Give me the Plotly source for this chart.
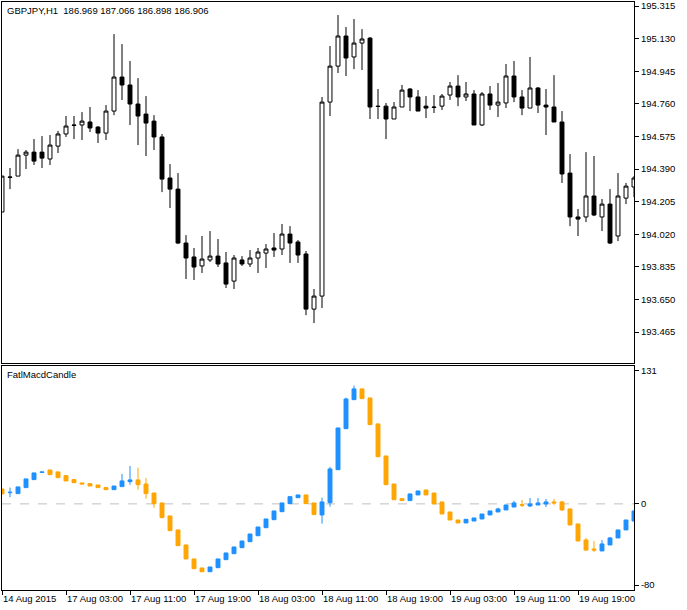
import plotly.graph_objects as go

# ---------------- data ----------------
bar_index = list(range(80))

tick_pos = [0, 8, 16, 24, 32, 40, 48, 56, 64, 72]
tick_labels = ["14 Aug 2015", "17 Aug 03:00", "17 Aug 11:00", "17 Aug 19:00",
               "18 Aug 03:00", "18 Aug 11:00", "18 Aug 19:00", "19 Aug 03:00",
               "19 Aug 11:00", "19 Aug 19:00"]

price_ticks = [195.315, 195.130, 194.945, 194.760, 194.575, 194.390,
               194.205, 194.020, 193.835, 193.650, 193.465]
ind_ticks = [131, 0, -80]

open_ = [194.146,194.345,194.350,194.469,194.486,194.486,194.447,194.520,194.589,194.640,
         194.640,194.657,194.628,194.594,194.719,194.912,194.867,194.759,194.702,194.662,
         194.572,194.339,194.276,193.970,193.891,193.840,193.874,193.896,193.857,193.754,
         193.874,193.851,193.885,193.913,193.942,193.936,194.021,193.976,193.908,193.595,
         193.669,194.770,194.974,195.145,195.026,195.105,195.133,194.747,194.747,194.674,
         194.742,194.844,194.799,194.747,194.742,194.747,194.810,194.861,194.799,194.816,
         194.640,194.816,194.753,194.765,194.918,194.799,194.736,194.850,194.753,194.742,
         194.657,194.367,194.118,194.118,194.237,194.118,194.191,194.010,194.225,194.288]
high_ = [194.350,194.396,194.503,194.498,194.560,194.577,194.583,194.606,194.691,194.691,
         194.713,194.742,194.634,194.753,195.156,195.099,195.003,194.906,194.804,194.696,
         194.589,194.418,194.367,194.015,193.942,194.010,194.038,193.993,193.919,193.902,
         193.896,193.930,193.942,193.964,194.027,194.078,194.066,193.987,193.925,193.709,
         194.799,195.088,195.264,195.196,195.241,195.184,195.139,194.844,194.765,194.770,
         194.867,194.850,194.838,194.804,194.810,194.816,194.884,194.923,194.884,194.838,
         194.827,194.861,194.878,194.986,195.003,194.838,195.026,194.855,194.844,194.923,
         194.719,194.475,194.163,194.486,194.464,194.220,194.276,194.367,194.311,194.350]
low_ = [194.146,194.276,194.350,194.390,194.413,194.396,194.413,194.481,194.572,194.560,
        194.555,194.600,194.538,194.555,194.696,194.782,194.640,194.526,194.464,194.498,
        194.259,194.169,193.964,193.766,193.760,193.800,193.862,193.834,193.715,193.709,
        193.840,193.834,193.800,193.828,193.891,193.902,193.857,193.857,193.561,193.516,
        193.601,194.691,194.935,194.918,194.957,194.952,194.674,194.674,194.560,194.674,
        194.742,194.719,194.719,194.679,194.708,194.725,194.782,194.747,194.776,194.640,
        194.634,194.725,194.685,194.736,194.770,194.696,194.736,194.708,194.583,194.657,
        194.311,194.066,194.010,194.089,194.123,194.038,193.964,193.981,194.191,194.231]
close_ = [194.350,194.343,194.469,194.486,194.435,194.452,194.526,194.589,194.634,194.638,
          194.662,194.623,194.594,194.719,194.912,194.867,194.759,194.691,194.651,194.572,
          194.333,194.276,193.970,193.885,193.834,193.879,193.896,193.851,193.737,193.885,
          193.851,193.885,193.919,193.936,193.930,194.021,193.970,193.902,193.595,193.669,
          194.770,194.974,195.145,195.020,195.105,195.128,194.742,194.745,194.674,194.742,
          194.838,194.799,194.719,194.736,194.740,194.804,194.861,194.799,194.816,194.640,
          194.816,194.753,194.770,194.918,194.799,194.736,194.850,194.753,194.742,194.657,
          194.362,194.118,194.106,194.237,194.129,194.191,193.970,194.237,194.293,194.339]

ind_open = [14.7,11.0,10.1,16.0,23.9,31.0,33.4,31.5,27.8,23.9,
            20.6,19.9,18.6,16.0,14.0,17.0,21.9,23.6,19.6,10.7,
            0.9,-11.9,-25.7,-40.5,-54.3,-63.2,-66.9,-62.9,-55.0,-49.1,
            -43.2,-37.3,-31.4,-23.5,-15.6,-7.7,0.2,6.1,8.8,0.9,
            -10.9,1.2,33.7,74.1,102.7,113.3,104.4,78.8,47.2,19.6,
            5.1,3.2,8.8,13.7,10.7,1.9,-8.0,-15.9,-18.8,-16.9,
            -14.9,-10.9,-8.0,-6.0,-3.1,-0.9,-2.1,-1.1,-0.1,1.9,
            1.9,-5.0,-19.8,-35.6,-44.5,-46.4,-40.5,-33.6,-25.7,-16.9]
ind_high = [14.7,16.0,16.7,24.6,30.5,31.4,33.4,31.5,27.8,23.9,
            20.6,19.9,18.6,16.0,17.6,29.5,37.4,35.7,25.5,10.7,
            0.9,-11.9,-25.7,-40.5,-54.3,-63.2,-62.2,-54.3,-48.4,-42.5,
            -36.6,-29.7,-22.8,-14.9,-7.0,0.9,7.1,8.8,8.8,0.9,
            6.1,36.4,74.8,104.7,116.5,113.3,104.4,78.8,47.2,19.6,
            5.1,9.8,12.7,13.7,10.7,1.9,-8.0,-15.9,-15.2,-13.9,
            -10.0,-7.0,-3.7,-1.1,2.9,3.8,5.8,5.8,4.8,4.8,
            2.9,-5.0,-19.8,-33.6,-36.6,-35.6,-32.6,-25.7,-15.9,-7.0]
ind_low = [9.8,6.5,10.1,16.0,23.9,31.0,28.8,25.8,22.6,20.9,
           19.6,17.6,16.0,14.0,14.0,17.0,18.9,14.0,5.1,-3.7,
           -13.6,-26.4,-41.2,-54.3,-63.9,-66.9,-66.9,-62.9,-55.0,-49.1,
           -43.2,-37.3,-31.4,-23.5,-15.6,-7.7,0.2,6.1,0.2,-10.6,
           -19.5,-2.8,33.7,74.1,102.7,103.7,78.1,46.5,18.9,4.1,
           3.2,3.2,8.8,8.8,-0.1,-10.0,-15.9,-18.8,-18.8,-16.9,
           -14.9,-10.9,-8.0,-6.0,-3.1,-3.1,-3.1,-1.1,-3.1,-1.1,
           -7.0,-20.8,-36.6,-46.4,-47.4,-46.4,-40.5,-33.6,-25.7,-16.9]
ind_close = [9.8,11.4,16.7,24.6,30.5,31.4,28.8,25.8,22.6,20.9,
             19.6,17.6,16.0,14.0,17.6,22.6,23.6,18.9,10.1,0.2,
             -13.6,-26.4,-41.2,-54.3,-63.9,-66.9,-62.2,-54.3,-48.4,-42.5,
             -36.6,-29.7,-22.8,-14.9,-7.0,0.9,7.1,8.8,0.2,-10.6,
             1.9,34.4,74.8,103.4,113.3,103.7,78.1,46.5,18.9,4.1,
             3.2,9.8,12.7,8.8,-0.1,-10.0,-15.9,-18.8,-15.2,-13.9,
             -10.0,-7.0,-5.0,-1.1,0.9,-1.3,-0.1,0.9,1.9,0.9,
             -6.0,-20.8,-36.6,-45.5,-45.5,-39.5,-33.6,-25.7,-15.9,-7.0]

symbol_title = "GBPJPY,H1  186.969 187.066 186.898 186.906"
ind_title = "FatlMacdCandle"

# ---------------- figure ----------------
FONT = "Liberation Sans, Arial, sans-serif"
BLUE = "#1E90FF"
ORANGE = "#FFA500"

fig = go.Figure()

fig.add_trace(go.Candlestick(
    x=bar_index, open=open_, high=high_, low=low_, close=close_,
    xaxis="x", yaxis="y",
    increasing=dict(line=dict(color="black", width=1), fillcolor="white"),
    decreasing=dict(line=dict(color="black", width=1), fillcolor="black"),
    whiskerwidth=0, showlegend=False, hoverinfo="skip",
))

fig.add_trace(go.Candlestick(
    x=bar_index, open=ind_open, high=ind_high, low=ind_low, close=ind_close,
    xaxis="x2", yaxis="y2",
    increasing=dict(line=dict(color=BLUE, width=1), fillcolor=BLUE),
    decreasing=dict(line=dict(color=ORANGE, width=1), fillcolor=ORANGE),
    whiskerwidth=0, showlegend=False, hoverinfo="skip",
))

fig.add_shape(type="line", xref="x2 domain", yref="y2", x0=0, x1=1, y0=0, y1=0,
              line=dict(color="#C0C0C0", width=1, dash="dash"), layer="below")

axis_common = dict(showgrid=False, zeroline=False, showline=True, mirror=True,
                   linecolor="black", linewidth=1, automargin=False)

fig.update_layout(
    width=687, height=610,
    margin=dict(l=2, r=53, t=2, b=20),
    paper_bgcolor="white", plot_bgcolor="white",
    font=dict(family=FONT, size=9.5, color="black"),
    showlegend=False,
    xaxis=dict(domain=[0, 1], anchor="y", range=[0, 79], showticklabels=False,
               ticks="", rangeslider=dict(visible=False), **axis_common),
    yaxis=dict(domain=[0.386, 1], anchor="x", side="right", range=[193.289, 195.338],
               tickvals=price_ticks, ticktext=[f"{v:.3f}" for v in price_ticks],
               ticks="outside", ticklen=4, tickcolor="black", **axis_common),
    xaxis2=dict(domain=[0, 1], anchor="y2", range=[0, 79], matches="x",
                tickvals=tick_pos, ticktext=tick_labels, ticks="outside", ticklen=4,
                tickcolor="black", ticklabelposition="outside right", tickangle=0,
                rangeslider=dict(visible=False), **axis_common),
    yaxis2=dict(domain=[0, 0.381], anchor="x2", side="right", range=[-84.9, 135.9],
                tickvals=ind_ticks, ticktext=[str(v) for v in ind_ticks],
                ticks="outside", ticklen=4, tickcolor="black", **axis_common),
    annotations=[
        dict(text=symbol_title, xref="paper", yref="paper", x=0, y=1,
             xanchor="left", yanchor="top", xshift=3, yshift=-1, showarrow=False,
             font=dict(family=FONT, size=9.5, color="black")),
        dict(text=ind_title, xref="paper", yref="paper", x=0, y=0.381,
             xanchor="left", yanchor="top", xshift=3, yshift=-1, showarrow=False,
             font=dict(family=FONT, size=9.5, color="black")),
    ],
)

fig.write_html("out.html",
               config={"displayModeBar": False},
               post_script="document.body.style.margin='0';document.body.style.overflow='hidden';")
